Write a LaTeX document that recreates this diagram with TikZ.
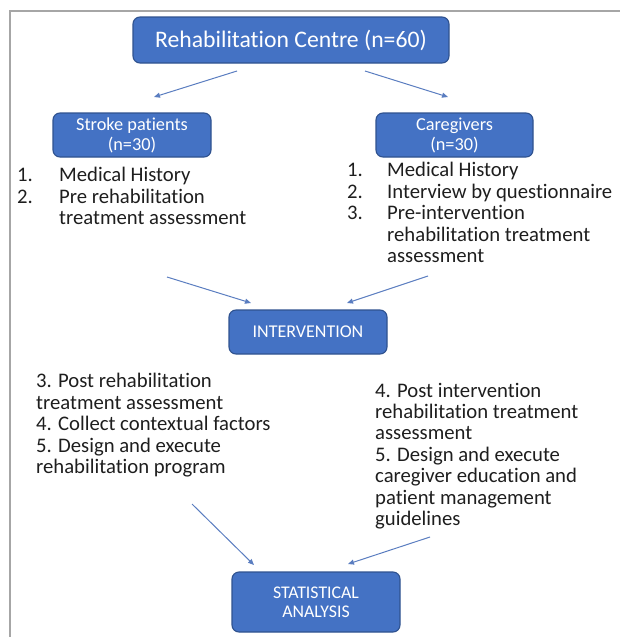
\documentclass[tikz,border=0pt]{standalone}
\usepackage{fontspec}
\setmainfont{Carlito}[Ligatures={NoCommon}]
\usetikzlibrary{arrows.meta}
\definecolor{boxblue}{HTML}{4472C4}
\definecolor{boxedge}{HTML}{2F528F}
\definecolor{arrowblue}{HTML}{5A7DC0}
\definecolor{framegray}{HTML}{A6A6A6}
\definecolor{txt}{HTML}{1E1E1E}
\begin{document}
\begin{tikzpicture}[x=1pt,y=-1pt,
  bluebox/.style={draw=boxedge, fill=boxblue, line width=1.1pt, rounded corners=7pt,
                  text=white, inner sep=0pt, align=center},
  flowarrow/.style={draw=arrowblue, line width=1pt, -{Triangle[length=6pt,width=5pt]}},
  listtext/.style={anchor=north west, inner sep=0pt, text=txt,
                   font=\fontsize{20.7}{21.4}\selectfont}]
\useasboundingbox (0,0) rectangle (620,637);
\draw[framegray, line width=1.6pt] (10,637) -- (10,11) -- (620,11);

% boxes
\node[bluebox, minimum width=316pt, minimum height=46pt,
      font=\fontsize{23.7}{28}\selectfont] (rehab) at (291,40) {Rehabilitation Centre (n=60)};
\node[bluebox, minimum width=158pt, minimum height=44pt,
      font=\fontsize{18.3}{20}\selectfont] (stroke) at (132,135) {Stroke patients\\(n=30)};
\node[bluebox, minimum width=157pt, minimum height=44pt,
      font=\fontsize{18.3}{20}\selectfont] (care) at (454.5,135) {Caregivers\\(n=30)};
\node[bluebox, minimum width=158pt, minimum height=44pt,
      font=\fontsize{18}{20}\selectfont] (interv) at (308,332) {INTERVENTION};
\node[bluebox, minimum width=168pt, minimum height=60pt,
      font=\fontsize{17.8}{19}\selectfont] (stat) at (316,602) {STATISTICAL\\ANALYSIS};

% lists
\node[listtext] (plist) at (17,166.7) {\begin{tabular}{@{}p{42pt}@{}l@{}}
1. & Medical History\\
2. & Pre rehabilitation\\
   & treatment assessment
\end{tabular}};
\node[listtext] (clist) at (347,161.7) {\begin{tabular}{@{}p{40pt}@{}l@{}}
1. & Medical History\\
2. & Interview by questionnaire\\
3. & Pre-intervention\\
   & rehabilitation treatment\\
   & assessment
\end{tabular}};
\node[listtext] (plist2) at (36,372.7) {\begin{tabular}{@{}l@{}}
3. Post rehabilitation\\
treatment assessment\\
4. Collect contextual factors\\
5. Design and execute\\
rehabilitation program
\end{tabular}};
\node[listtext] (clist2) at (375,382) {\begin{tabular}{@{}l@{}}
4. Post intervention\\
rehabilitation treatment\\
assessment\\
5. Design and execute\\
caregiver education and\\
patient management\\
guidelines
\end{tabular}};

% arrows
\coordinate (a1s) at (237,71);  \coordinate (a1e) at (154,97);
\coordinate (a2s) at (365,71);  \coordinate (a2e) at (448,97);
\coordinate (a3s) at (167,277); \coordinate (a3e) at (251,303);
\coordinate (a4s) at (428,276); \coordinate (a4e) at (347,303);
\coordinate (a5s) at (192,504); \coordinate (a5e) at (254,565);
\coordinate (a6s) at (430,537); \coordinate (a6e) at (348,564);
\draw[flowarrow] (a1s) -- (a1e);
\draw[flowarrow] (a2s) -- (a2e);
\draw[flowarrow] (a3s) -- (a3e);
\draw[flowarrow] (a4s) -- (a4e);
\draw[flowarrow] (a5s) -- (a5e);
\draw[flowarrow] (a6s) -- (a6e);
\end{tikzpicture}
\end{document}
